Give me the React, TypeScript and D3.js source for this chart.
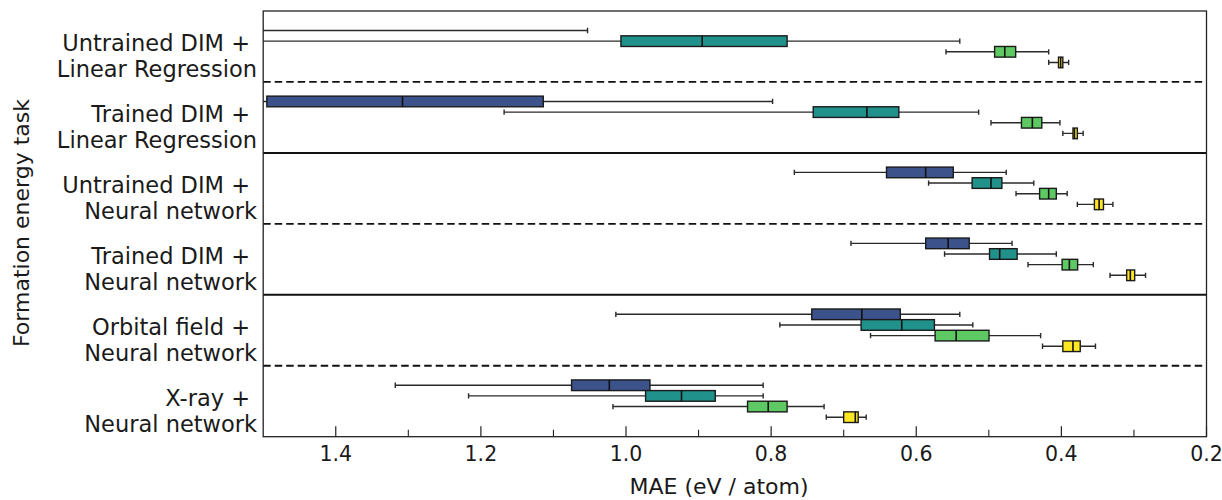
import React from "react";
import * as d3 from "d3";

// Category labels (two lines each), top to bottom
const TASK_LINE1 = ["Untrained DIM +", "Trained DIM +", "Untrained DIM +", "Trained DIM +", "Orbital field +", "X-ray +"];
const TASK_LINE2 = ["Linear Regression", "Linear Regression", "Neural network", "Neural network", "Neural network", "Neural network"];

// Box statistics per task: [upper whisker (max MAE), Q3, median, Q1, lower whisker (min MAE)]
const SERIES_1 = [
  [2.3, 1.95, 1.75, 1.56, 1.053],
  [1.6, 1.495, 1.308, 1.114, 0.798],
  [0.768, 0.641, 0.587, 0.549, 0.476],
  [0.69, 0.587, 0.556, 0.527, 0.468],
  [1.014, 0.744, 0.675, 0.622, 0.54],
  [1.318, 1.075, 1.023, 0.967, 0.811],
];
const SERIES_2 = [
  [1.6, 1.007, 0.895, 0.778, 0.54],
  [1.168, 0.742, 0.668, 0.624, 0.514],
  [0.583, 0.523, 0.497, 0.482, 0.438],
  [0.561, 0.499, 0.485, 0.461, 0.407],
  [0.788, 0.676, 0.62, 0.575, 0.522],
  [1.217, 0.973, 0.9235, 0.877, 0.811],
];
const SERIES_3 = [
  [0.559, 0.492, 0.478, 0.463, 0.4175],
  [0.497, 0.455, 0.44, 0.427, 0.402],
  [0.4625, 0.43, 0.4175, 0.407, 0.392],
  [0.446, 0.399, 0.389, 0.3776, 0.356],
  [0.663, 0.574, 0.545, 0.4997, 0.4286],
  [1.018, 0.8325, 0.804, 0.778, 0.727],
];
const SERIES_4 = [
  [0.4175, 0.404, 0.401, 0.398, 0.39],
  [0.398, 0.384, 0.382, 0.378, 0.37],
  [0.378, 0.3545, 0.348, 0.342, 0.329],
  [0.333, 0.31, 0.305, 0.299, 0.284],
  [0.426, 0.398, 0.384, 0.374, 0.353],
  [0.724, 0.7, 0.684, 0.68, 0.669],
];

const MAJOR_TICKS = [1.4, 1.2, 1.0, 0.8, 0.6, 0.4, 0.2];
const MINOR_TICKS = [1.3, 1.1, 0.9, 0.7, 0.5, 0.3];
const DASHED_SEPARATORS = [1, 3, 5];
const SOLID_SEPARATORS = [2, 4];

const X_LABEL = "MAE (eV / atom)";
const Y_LABEL = "Formation energy task";

const SERIES = [SERIES_1, SERIES_2, SERIES_3, SERIES_4];
const COLORS = ["#3b528b", "#21918c", "#5ec962", "#fde725"];

const W = 1222;
const H = 500;
const PL = 263.2;
const PR = 1206.5;
const PT = 11;
const PB = 436.7;
const FONT = "DejaVu Sans, Verdana, sans-serif";

export default function App() {
  const x = d3.scaleLinear().domain([1.5, 0.2]).range([PL, PR]);
  const y = d3.scaleLinear().domain([0, TASK_LINE1.length]).range([PT, PB]);
  const step = 0.15;
  const boxH = y(step) - y(0);
  const capH = boxH / 2;
  const fmt = d3.format(".1f");

  return (
    <svg
      width={W}
      height={H}
      style={{ position: "absolute", left: 0, top: 0, background: "#fff" }}
      fontFamily={FONT}
    >
      <defs>
        <clipPath id="plotClip">
          <rect x={PL} y={PT} width={PR - PL} height={PB - PT} />
        </clipPath>
      </defs>
      <rect x={0} y={0} width={W} height={H} fill="#fff" />

      <g clipPath="url(#plotClip)">
        {SERIES.map((ser, s) =>
          ser.map((st, i) => {
            const [hi, q3, med, q1, lo] = st;
            const cy = y(i + 0.5 + (s - 1.5) * step);
            return (
              <g key={`b-${s}-${i}`}>
                <line x1={x(hi)} x2={x(q3)} y1={cy} y2={cy} stroke="#2a2a2a" strokeWidth={1.4} />
                <line x1={x(q1)} x2={x(lo)} y1={cy} y2={cy} stroke="#2a2a2a" strokeWidth={1.4} />
                <line x1={x(hi)} x2={x(hi)} y1={cy - capH / 2} y2={cy + capH / 2} stroke="#2a2a2a" strokeWidth={1.4} />
                <line x1={x(lo)} x2={x(lo)} y1={cy - capH / 2} y2={cy + capH / 2} stroke="#2a2a2a" strokeWidth={1.4} />
                <rect
                  x={x(q3)}
                  y={cy - boxH / 2}
                  width={x(q1) - x(q3)}
                  height={boxH}
                  fill={COLORS[s]}
                  stroke="#1a1a1a"
                  strokeWidth={1.4}
                />
                <line x1={x(med)} x2={x(med)} y1={cy - boxH / 2} y2={cy + boxH / 2} stroke="#111" strokeWidth={1.6} />
              </g>
            );
          })
        )}
      </g>

      {DASHED_SEPARATORS.map((g) => (
        <line key={`d-${g}`} x1={PL} x2={PR} y1={y(g)} y2={y(g)} stroke="#111" strokeWidth={1.8} strokeDasharray="7.5,4" />
      ))}
      {SOLID_SEPARATORS.map((g) => (
        <line key={`s-${g}`} x1={PL} x2={PR} y1={y(g)} y2={y(g)} stroke="#111" strokeWidth={2} />
      ))}

      {MAJOR_TICKS.map((t) => (
        <g key={`mt-${t}`}>
          <line x1={x(t)} x2={x(t)} y1={PB} y2={PB - 10.5} stroke="#222" strokeWidth={1.2} />
          <text x={x(t)} y={461} textAnchor="middle" fontSize={20.5} fill="#1a1a1a">
            {fmt(t)}
          </text>
        </g>
      ))}
      {MINOR_TICKS.map((t) => (
        <line key={`mn-${t}`} x1={x(t)} x2={x(t)} y1={PB} y2={PB - 7} stroke="#222" strokeWidth={1.1} />
      ))}

      <rect x={PL} y={PT} width={PR - PL} height={PB - PT} fill="none" stroke="#222" strokeWidth={1.3} />

      {TASK_LINE1.map((l1, i) => {
        const c = y(i + 0.5);
        return (
          <g key={`lab-${i}`} fontSize={22.5} fill="#1a1a1a">
            <text x={250} y={c + 5} textAnchor="end">{l1}</text>
            <text x={257} y={c + 30.5} textAnchor="end">{TASK_LINE2[i]}</text>
          </g>
        );
      })}

      <text x={719} y={494} textAnchor="middle" fontSize={22} fill="#1a1a1a">
        {X_LABEL}
      </text>
      <text
        transform={`translate(29, 223) rotate(-90)`}
        textAnchor="middle"
        fontSize={22}
        fill="#1a1a1a"
      >
        {Y_LABEL}
      </text>
    </svg>
  );
}
